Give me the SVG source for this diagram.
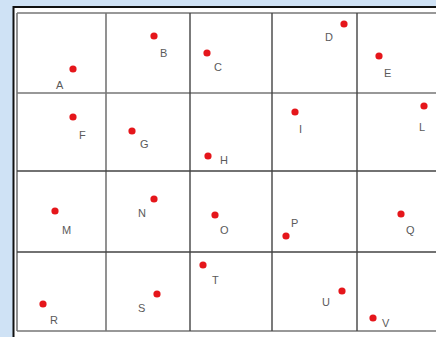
<svg xmlns="http://www.w3.org/2000/svg" width="436" height="337" viewBox="0 0 436 337">
<style>
.g{stroke:#777;stroke-width:1.6;fill:none}
.k{stroke:#444;stroke-width:1.4;fill:none}
.d{fill:#e5161b}
.t{font-family:"Liberation Sans",Arial,sans-serif;font-size:11px;fill:#5a5a5a}
</style>
<rect width="436" height="337" fill="#cfe2f5"/>
<rect x="13.5" y="7" width="430" height="340" fill="#ffffff" stroke="#111" stroke-width="2"/>
<g id="grid">
<path class="g" d="M17 13H436M17 93H436M17 331H436M17 13V331M106 13V331"/>
<path class="k" d="M17 171H436M17 252H436M190 13V331M272 13V331M357 13V331"/>
</g>
<g id="A"><circle class="d" cx="73" cy="69" r="3.6"/><text class="t" x="56" y="89">A</text></g>
<g id="B"><circle class="d" cx="154" cy="36" r="3.6"/><text class="t" x="160" y="57">B</text></g>
<g id="C"><circle class="d" cx="207" cy="53" r="3.6"/><text class="t" x="214" y="71">C</text></g>
<g id="D"><circle class="d" cx="344" cy="24" r="3.6"/><text class="t" x="325" y="41">D</text></g>
<g id="E"><circle class="d" cx="379" cy="56" r="3.6"/><text class="t" x="384" y="77">E</text></g>
<g id="F"><circle class="d" cx="73" cy="117" r="3.6"/><text class="t" x="79" y="139">F</text></g>
<g id="G"><circle class="d" cx="132" cy="131" r="3.6"/><text class="t" x="140" y="148">G</text></g>
<g id="H"><circle class="d" cx="208" cy="156" r="3.6"/><text class="t" x="220" y="164">H</text></g>
<g id="I"><circle class="d" cx="295" cy="112" r="3.6"/><text class="t" x="299" y="133">I</text></g>
<g id="L"><circle class="d" cx="424" cy="106" r="3.6"/><text class="t" x="419" y="131">L</text></g>
<g id="M"><circle class="d" cx="55" cy="211" r="3.6"/><text class="t" x="62" y="234">M</text></g>
<g id="N"><circle class="d" cx="154" cy="199" r="3.6"/><text class="t" x="138" y="217">N</text></g>
<g id="O"><circle class="d" cx="215" cy="215" r="3.6"/><text class="t" x="220" y="234">O</text></g>
<g id="P"><circle class="d" cx="286" cy="236" r="3.6"/><text class="t" x="291" y="227">P</text></g>
<g id="Q"><circle class="d" cx="401" cy="214" r="3.6"/><text class="t" x="406" y="234">Q</text></g>
<g id="R"><circle class="d" cx="43" cy="304" r="3.6"/><text class="t" x="50" y="324">R</text></g>
<g id="S"><circle class="d" cx="157" cy="294" r="3.6"/><text class="t" x="138" y="312">S</text></g>
<g id="T"><circle class="d" cx="203" cy="265" r="3.6"/><text class="t" x="212" y="284">T</text></g>
<g id="U"><circle class="d" cx="342" cy="291" r="3.6"/><text class="t" x="322" y="306">U</text></g>
<g id="V"><circle class="d" cx="373" cy="318" r="3.6"/><text class="t" x="382" y="327">V</text></g>
</svg>
